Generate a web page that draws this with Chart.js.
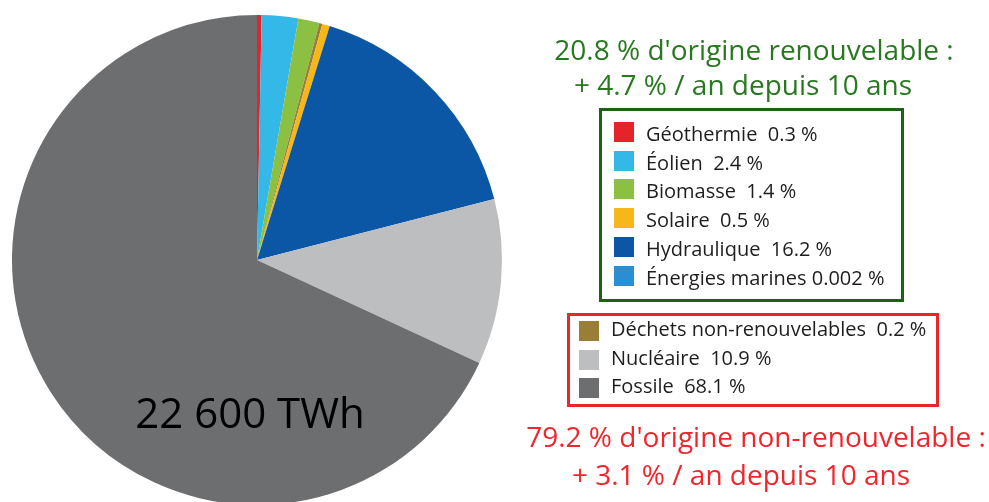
<!DOCTYPE html>
<html lang="fr">
<head>
<meta charset="utf-8">
<script src="https://cdn.jsdelivr.net/npm/chart.js@4/dist/chart.umd.min.js"></script>
<style>
  html, body { margin: 0; padding: 0; background: #fff; overflow: hidden; width: 989px; height: 502px; }
  #wrap { position: absolute; left: 0; top: 0; width: 989px; height: 510px; }
  .t { position: absolute; font-family: "Open Sans", sans-serif; white-space: pre; }
  .title { width: 600px; text-align: center; font-size: 28px; line-height: 28px; }
  .green { color: #28781f; }
  .red { color: #f0262c; }
  .box { position: absolute; box-sizing: border-box; border: 3px solid; }
  .sw { position: absolute; width: 20px; height: 20px; }
  .lt { position: absolute; font-family: "Open Sans", sans-serif; font-size: 20px; line-height: 20px; color: #1e1e1e; white-space: pre; }
  #total { position: absolute; left: 50px; width: 400px; text-align: center; font-family: "Open Sans", sans-serif; font-size: 42px; line-height: 42px; color: #000; top: 391px; }
</style>
</head>
<body>
<div id="wrap"><canvas id="c" width="989" height="510"></canvas></div>
<div id="total">22 600 TWh</div>
<div class="t title green" style="left:454px; top:35px;">20.8 % d'origine renouvelable :</div>
<div class="t title green" style="left:443px; top:70px;">+ 4.7 % / an depuis 10 ans</div>
<div class="box" id="gbox" style="left:599px; top:108px; width:305px; height:194px; border-color:#1f5f18;"></div>
<div class="box" id="rbox" style="left:567px; top:313px; width:372px; height:94px; border-color:#e8262c;"></div>
<div class="t title red" style="left:456px; top:422px;">79.2 % d'origine non-renouvelable :</div>
<div class="t title red" style="left:441px; top:460px;">+ 3.1 % / an depuis 10 ans</div>
<div id="legend"></div>
<script>
// Slices in clockwise order from 12 o'clock
const categories = ['Géothermie', 'Éolien', 'Biomasse', 'Déchets non-renouvelables', 'Solaire', 'Hydraulique', 'Énergies marines', 'Nucléaire', 'Fossile'];
const shares = [0.3, 2.4, 1.4, 0.2, 0.5, 16.2, 0.002, 10.9, 68.1];
const colors = ['#e5232a', '#33b8e8', '#8cc043', '#9a7d37', '#f7b718', '#0c57a5', '#2a8fd0', '#bdbec0', '#6d6e70'];
// Legend groups (names refer to categories)
const renewables = ['Géothermie', 'Éolien', 'Biomasse', 'Solaire', 'Hydraulique', 'Énergies marines'];
const nonRenewables = ['Déchets non-renouvelables', 'Nucléaire', 'Fossile'];

new Chart(document.getElementById('c'), {
  type: 'pie',
  data: {
    labels: categories,
    datasets: [{ data: shares, backgroundColor: colors, borderWidth: 0, hoverOffset: 0, offset: 0 }]
  },
  options: {
    responsive: false,
    devicePixelRatio: 1,
    animation: false,
    layout: { padding: { left: 12, right: 487, top: 15, bottom: 5 } },
    plugins: { legend: { display: false }, tooltip: { enabled: false } },
    events: []
  }
});

// HTML legend built from the arrays
const legend = document.getElementById('legend');
function addGroup(names, swX, textX, firstSwTop, firstTextTop, step, sep) {
  names.forEach((n, i) => {
    const k = categories.indexOf(n);
    const sw = document.createElement('div');
    sw.className = 'sw';
    sw.style.left = swX + 'px';
    sw.style.top = (firstSwTop + i * step) + 'px';
    sw.style.background = colors[k];
    legend.appendChild(sw);
    const t = document.createElement('div');
    t.className = 'lt';
    t.style.left = textX + 'px';
    t.style.top = (firstTextTop + i * step) + 'px';
    t.textContent = n + (n === 'Énergies marines' ? ' ' : '  ') + shares[k] + ' %';
    legend.appendChild(t);
  });
}
addGroup(renewables, 614, 646, 122, 124, 28.7);
addGroup(nonRenewables, 579, 611, 321, 319, 28.7);
</script>
</body>
</html>
